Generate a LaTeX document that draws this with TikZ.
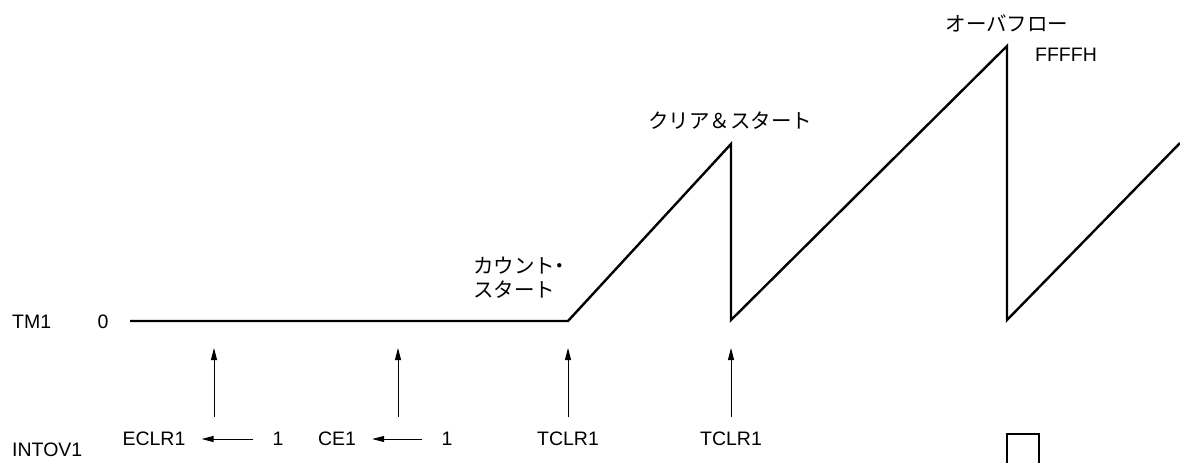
\documentclass[tikz,border=0pt]{standalone}
\usepackage{fontspec}
\setmainfont{Liberation Sans}
\newfontfamily\jpfont{Noto Sans CJK JP}
\usetikzlibrary{arrows.meta}

\begin{document}
\begin{tikzpicture}[x=1pt,y=-1pt]
% timer TM1 timing chart, pixel-like units, y grows downward
\def\txtsz{\fontsize{19.5}{24}\selectfont}
\def\jpsz{\fontsize{20.5}{24}\selectfont}
\providecommand{\tmWaveWidth}{2.4pt}
\providecommand{\tmArrowWidth}{1pt}
\tikzset{
  lbl/.style={font=\txtsz, inner sep=0pt},
  jlbl/.style={font=\jpsz\jpfont, inner sep=0pt},
  trig/.style={line width=\tmArrowWidth, -{Triangle[length=12pt,width=6pt]}},
  wave/.style={line width=\tmWaveWidth, line join=miter},
}
\useasboundingbox (0,0) rectangle (1180,463);
% Signal names and values
\node[lbl, anchor=west] (tm) at (12,322) {TM1};
\node[lbl] (zero) at (103,322) {0};
\node[lbl, anchor=west] (intov) at (12,450) {INTOV1};
\node[lbl] (eclr) at (154,439) {ECLR1};
\node[lbl] (oneA) at (278,439) {1};
\node[lbl] (ce) at (337,439) {CE1};
\node[lbl] (oneB) at (447,439) {1};
\node[lbl] (tclrA) at (568,439) {TCLR1};
\node[lbl] (tclrB) at (731,439) {TCLR1};
\node[lbl] (ffff) at (1066,55) {FFFFH};
% Event labels
\node[jlbl, anchor=west] (cnt) at (473,266) {カウント\kern-.3em・};
\node[jlbl, anchor=west] (st) at (473,290) {スタート};
\node[jlbl] (clrst) at (730,121) {クリア＆スタート};
\node[jlbl] (ovf) at (1007,23) {オーバフロー};
% Bit writes
\draw[trig] ([xshift=-19pt]oneA.west) -- ([xshift=16pt]eclr.east);
\draw[trig] ([xshift=-19pt]oneB.west) -- ([xshift=16pt]ce.east);
% Trigger arrows
\foreach \px/\nm in {214/a,398/b,568/c,731/d}{
  \coordinate (base\nm) at (\px,417);
  \coordinate (tip\nm) at (\px,348);
  \draw[trig] (base\nm) -- (tip\nm);
}
% Counter value
\coordinate (w0) at (130,321);
\coordinate (w1) at (568,321);
\coordinate (w2) at (731,144);
\coordinate (w3) at (731,320);
\coordinate (w4) at (1007,46);
\coordinate (w5) at (1007,320);
\coordinate (w6) at (1180,143);
\draw[wave] (w0) -- (w1) -- (w2) -- (w3) -- (w4) -- (w5) -- (w6);
% Overflow interrupt pulse
\coordinate (p0) at (1007,463);
\coordinate (p1) at (1039,434);
\coordinate (p2) at (1039,463);
\draw[wave] (p0) |- (p1) -- (p2);
\end{tikzpicture}
\end{document}
